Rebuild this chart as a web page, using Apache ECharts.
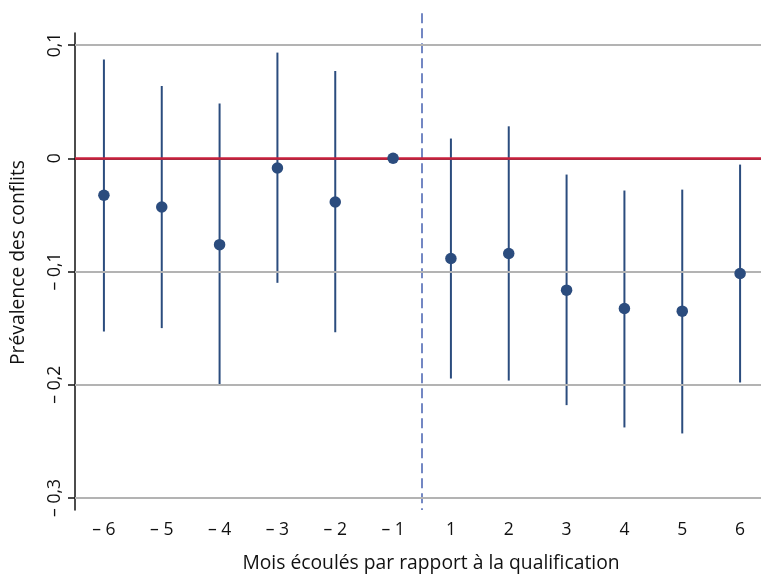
<!DOCTYPE html>
<html>
<head>
<meta charset="utf-8">
<script src="https://cdn.jsdelivr.net/npm/echarts@6/dist/echarts.min.js"></script>
<style>html,body{margin:0;padding:0;background:#fff;overflow:hidden;width:761px;height:575px}#c{width:769px;height:575px}</style>
</head>
<body>
<div id="c"></div>
<script>
const categories = ['\u2013 6','\u2013 5','\u2013 4','\u2013 3','\u2013 2','\u2013 1','1','2','3','4','5','6'];
const estimates = [-0.0327,-0.043,-0.0763,-0.0086,-0.0386,0,-0.0885,-0.0841,-0.1165,-0.1327,-0.135,-0.1018];
const ciLow  = [-0.153,-0.150,-0.2004,-0.110,-0.1536,0,-0.1945,-0.1963,-0.218,-0.2377,-0.243,-0.198];
const ciHigh = [0.0871,0.0638,0.0483,0.0933,0.0771,0,0.0174,0.0282,-0.0144,-0.0285,-0.0277,-0.0056];
const yTicks = [-0.3,-0.2,-0.1,0,0.1];
const gridValues = [-0.3,-0.2,-0.1,0.1];
const zeroLine = 0;
const qualificationBetween = ['\u2013 1','1'];

const FONT = 'Open Sans';
const BLUE = '#2b4c7e';
const yMin = -0.3106, yMax = 0.1106, dashTop = 0.128;

function fmt(v){
  if (Math.abs(v) < 1e-9) return '0';
  const s = Math.abs(v).toFixed(1).replace('.', ',');
  return v < 0 ? '\u2013 ' + s : s;
}

const chart = echarts.init(document.getElementById('c'), null, {renderer:'canvas'});
chart.setOption({
  animation:false,
  backgroundColor:'#fff',
  grid:{left:75, right:0, top:33, bottom:65, containLabel:false, outerBoundsMode:'none'},
  xAxis:{
    type:'category', data:categories, boundaryGap:true,
    name:'Mois écoulés par rapport à la qualification', nameLocation:'middle', nameGap:44,
    nameTextStyle:{fontFamily:FONT, fontSize:19.3, color:'#111', padding:[0,0,0,18]},
    axisLine:{lineStyle:{color:'#111', width:1.5}},
    axisTick:{alignWithLabel:true, length:7, lineStyle:{color:'#111', width:1.5}},
    axisLabel:{fontFamily:FONT, fontSize:17.5, color:'#111', margin:11},
    splitLine:{show:false}
  },
  yAxis:{
    type:'value', min:yMin, max:yMax,
    name:'Prévalence des conflits', nameLocation:'middle', nameGap:47, nameRotate:90,
    nameTextStyle:{fontFamily:FONT, fontSize:19.3, color:'#111', padding:[0,0,0,18]},
    axisLine:{show:true, lineStyle:{color:'#111', width:1.5}},
    axisTick:{show:true, length:7, customValues:yTicks, lineStyle:{color:'#111', width:1.5}},
    axisLabel:{rotate:90, customValues:yTicks, fontFamily:FONT, fontSize:17.5, color:'#111', margin:11, formatter:fmt},
    splitLine:{show:false}
  },
  series:[
    {
      type:'line', data:[], z:1, silent:true,
      markLine:{silent:true, symbol:'none', label:{show:false}, animation:false,
        lineStyle:{color:'#b3b3b3', width:2, type:'solid'},
        data:gridValues.map(v=>({yAxis:v}))}
    },
    {
      type:'line', data:[], z:2, silent:true,
      markLine:{silent:true, symbol:'none', label:{show:false}, animation:false,
        lineStyle:{color:'#c8203c', width:2.5, type:'solid'},
        data:[{yAxis:zeroLine}]}
    },
    {
      type:'custom', z:3, silent:true,
      data:[[categories.indexOf(qualificationBetween[0]), categories.indexOf(qualificationBetween[1])]],
      renderItem:function(params, api){
        const a = api.coord([api.value(0), dashTop]);
        const b = api.coord([api.value(1), yMin]);
        const x = (a[0] + b[0]) / 2;
        return {type:'line', shape:{x1:x, y1:a[1], x2:x, y2:b[1]},
          style:{stroke:'#4660b0', lineWidth:1.5, lineDash:[10,5]}};
      }
    },
    {
      type:'custom', z:4, silent:true,
      data:categories.map((c,i)=>[i, ciLow[i], ciHigh[i]]),
      renderItem:function(params, api){
        const lo = api.coord([api.value(0), api.value(1)]);
        const hi = api.coord([api.value(0), api.value(2)]);
        return {type:'line', shape:{x1:lo[0], y1:lo[1], x2:hi[0], y2:hi[1]},
          style:{stroke:BLUE, lineWidth:2}};
      }
    },
    {
      type:'scatter', z:5, silent:true, symbol:'circle', symbolSize:11.5,
      itemStyle:{color:BLUE, opacity:1},
      data:categories.map((c,i)=>[i, estimates[i]])
    }
  ]
});
</script>
</body>
</html>
